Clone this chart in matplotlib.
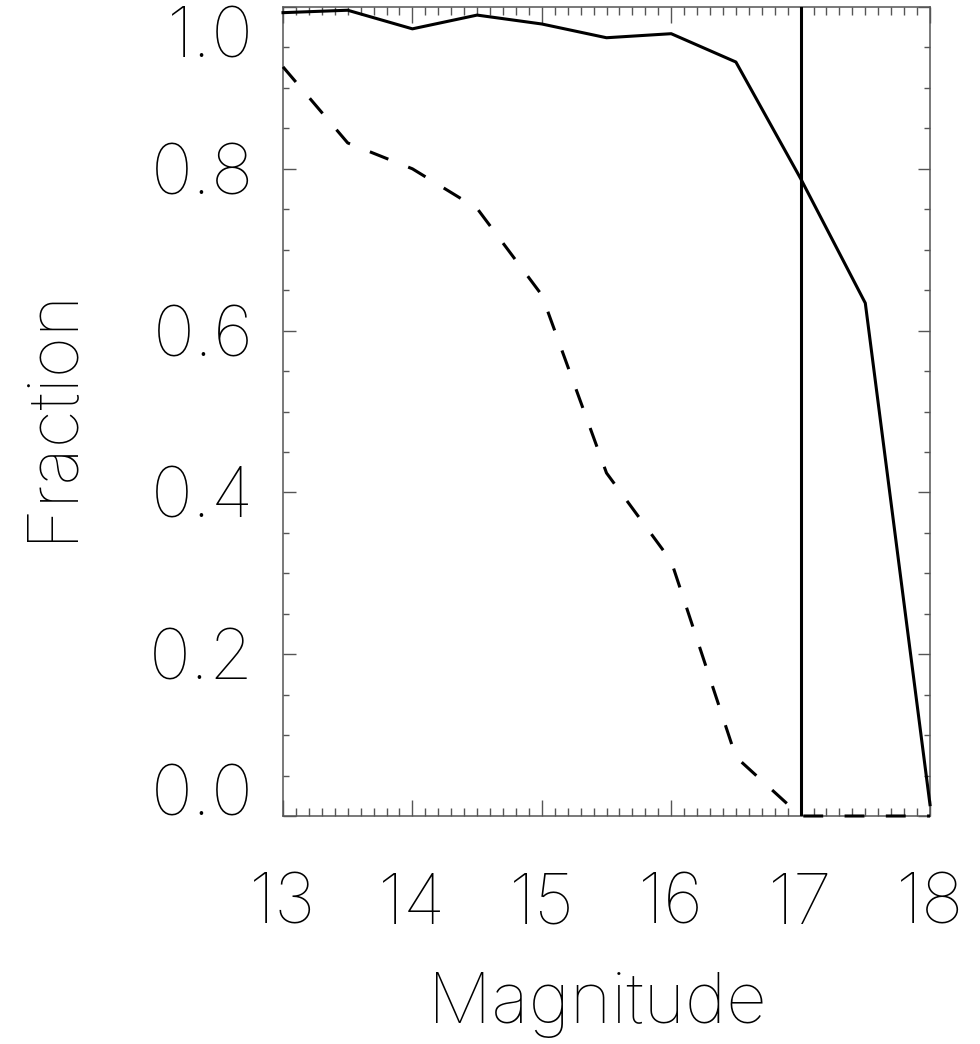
import matplotlib
matplotlib.use('Agg')
import matplotlib.pyplot as plt
from matplotlib import font_manager as fm
from matplotlib.ticker import MultipleLocator

# data
mag = [13.0, 13.5, 14.0, 14.5, 15.0, 15.5, 16.0, 16.5, 17.0, 17.5, 18.0]
frac_solid = [0.993, 0.996, 0.973, 0.990, 0.979, 0.962, 0.967, 0.932, 0.788, 0.634, 0.014]
frac_dashed = [0.926, 0.832, 0.800, 0.751, 0.644, 0.424, 0.315, 0.073, 0.0, 0.0, 0.0]
mag_limit = 17.0

xticks = [13, 14, 15, 16, 17, 18]
xlabels = ['13', '14', '15', '16', '17', '18']
yticks = [0.0, 0.2, 0.4, 0.6, 0.8, 1.0]
ylabels = ['0.0', '0.2', '0.4', '0.6', '0.8', '1.0']

# a thin font to stand in for the IDL hershey font
fp = fm.FontProperties(family='DejaVu Sans', size=51)
for name in ['Inter-Thin.otf', 'Lato-Hairline.ttf', 'DejaVuSans-ExtraLight.ttf']:
    hits = [f.fname for f in fm.fontManager.ttflist if f.fname.endswith('/' + name)]
    if hits:
        fp = fm.FontProperties(fname=hits[0], size=51)
        break

fig = plt.figure(figsize=(9.8, 10.44), dpi=100)
ax = fig.add_axes([283 / 980, 1 - 816 / 1044, 647 / 980, 809 / 1044])

ax.plot(mag, frac_solid, color='black', lw=2.2, clip_on=False, zorder=5)
ax.plot(mag, frac_dashed, color='black', lw=2.2, dashes=(6.5, 7), dash_capstyle='butt',
        clip_on=False, zorder=5)
ax.axvline(mag_limit, color='black', lw=2.2, zorder=4)

ax.set_xlim(13, 18)
ax.set_ylim(0, 1.0)

for s in ax.spines.values():
    s.set_color('#555555')
    s.set_linewidth(1.1)

ax.xaxis.set_minor_locator(MultipleLocator(0.1))
ax.yaxis.set_minor_locator(MultipleLocator(0.05))
ax.tick_params(axis='x', which='major', direction='in', top=True, length=11.5, width=1,
               color='#555555', pad=41)
ax.tick_params(axis='x', which='minor', direction='in', top=True, length=5.8, width=1,
               color='#555555')
ax.tick_params(axis='y', which='major', direction='in', right=True, length=9, width=1,
               color='#555555', pad=21)
ax.tick_params(axis='y', which='minor', direction='in', right=True, length=4.3, width=1,
               color='#555555')

ax.set_xticks(xticks)
ax.set_xticklabels(xlabels, fontproperties=fp)
ax.set_yticks(yticks)
ax.set_yticklabels(ylabels, fontproperties=fp)

# IDL keeps the end labels inside the axis range
yt = ax.yaxis.get_major_ticks()
for t in yt:
    t.label1.set_va('center_baseline')
yt[0].label1.set_va('baseline')
yt[-1].label1.set_va('top')

fig.text(597.5 / 980, 21 / 1044, 'Magnitude', fontproperties=fp, ha='center', va='baseline')
fig.text(70 / 980, 630 / 1044, 'Fraction', fontproperties=fp, rotation=90,
         rotation_mode='anchor', ha='center', va='baseline')

fig.savefig('out.png', dpi=100)
